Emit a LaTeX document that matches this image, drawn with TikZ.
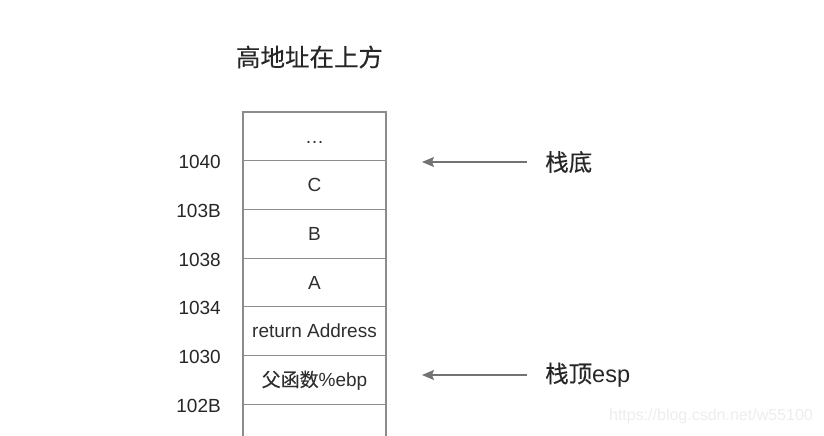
\documentclass[tikz,border=0pt]{standalone}
\usepackage{fontspec}
\setmainfont{Liberation Sans}
\newfontfamily\cjk[FakeBold=0.25]{Noto Sans CJK SC}
\usepackage{tikz}
\usetikzlibrary{arrows.meta}

\begin{document}
\begin{tikzpicture}[x=1pt, y=-1pt, >=Stealth,
    cell/.style={draw=black!45, line width=1.2pt, minimum width=143pt, minimum height=48.7pt, inner sep=0pt, text height=13.6pt, text depth=0pt, text=black!82, font=\fontsize{19}{19}\selectfont},
    addr/.style={anchor=east, inner sep=0pt, text=black!85, font=\fontsize{19}{19}\selectfont},
    tag/.style={anchor=west, inner sep=0pt, text=black!85, font=\fontsize{23.5}{24}\selectfont},
    ptr/.style={draw=black!55, line width=1.2pt, -{Stealth[length=12pt,width=10pt,inset=2pt]}}]

    %% Background
    \useasboundingbox (0,0) rectangle (824,436);
    \clip (0,0) rectangle (824,436);

    \node[inner sep=0pt, text=black!85, font=\cjk\fontsize{24.5}{25}\selectfont] (title) at (309.5,57) {高地址在上方};

    %% stack cells, top to bottom
    \foreach \n/\i/\t in {c0/0/{\ldots}, c1/1/C, c2/2/B, c3/3/A, c4/4/return Address, c5/5/{{\cjk 父函数}\%ebp}, c6/6/{}}
    {
    \node[cell] (\n) at (314.5,112+48.7*\i+24.35) {\t};
    }

    %% addresses at the cell borders
    \foreach \n/\i/\t in {a1/1/1040, a2/2/103B, a3/3/1038, a4/4/1034, a5/5/1030, a6/6/102B}
    {
    \node[addr] (\n) at (221,112+48.7*\i+1.5) {\t};
    }

    %% pointers
    \node[tag] (lbot) at (545,162) {\cjk 栈底};
    \node[tag] (ltop) at (545,375) {{\cjk 栈顶}esp};
    \coordinate (pbot) at (422,162);
    \coordinate (ptop) at (422,375);
    \draw[ptr, shorten <=18pt] (lbot.west) -- (pbot);
    \draw[ptr, shorten <=18pt] (ltop.west) -- (ptop);

    \node[anchor=east, inner sep=0pt, text=black!7, font=\fontsize{16}{16}\selectfont] (mark) at (813,416) {https://blog.csdn.net/w55100};

\end{tikzpicture}
\end{document}
